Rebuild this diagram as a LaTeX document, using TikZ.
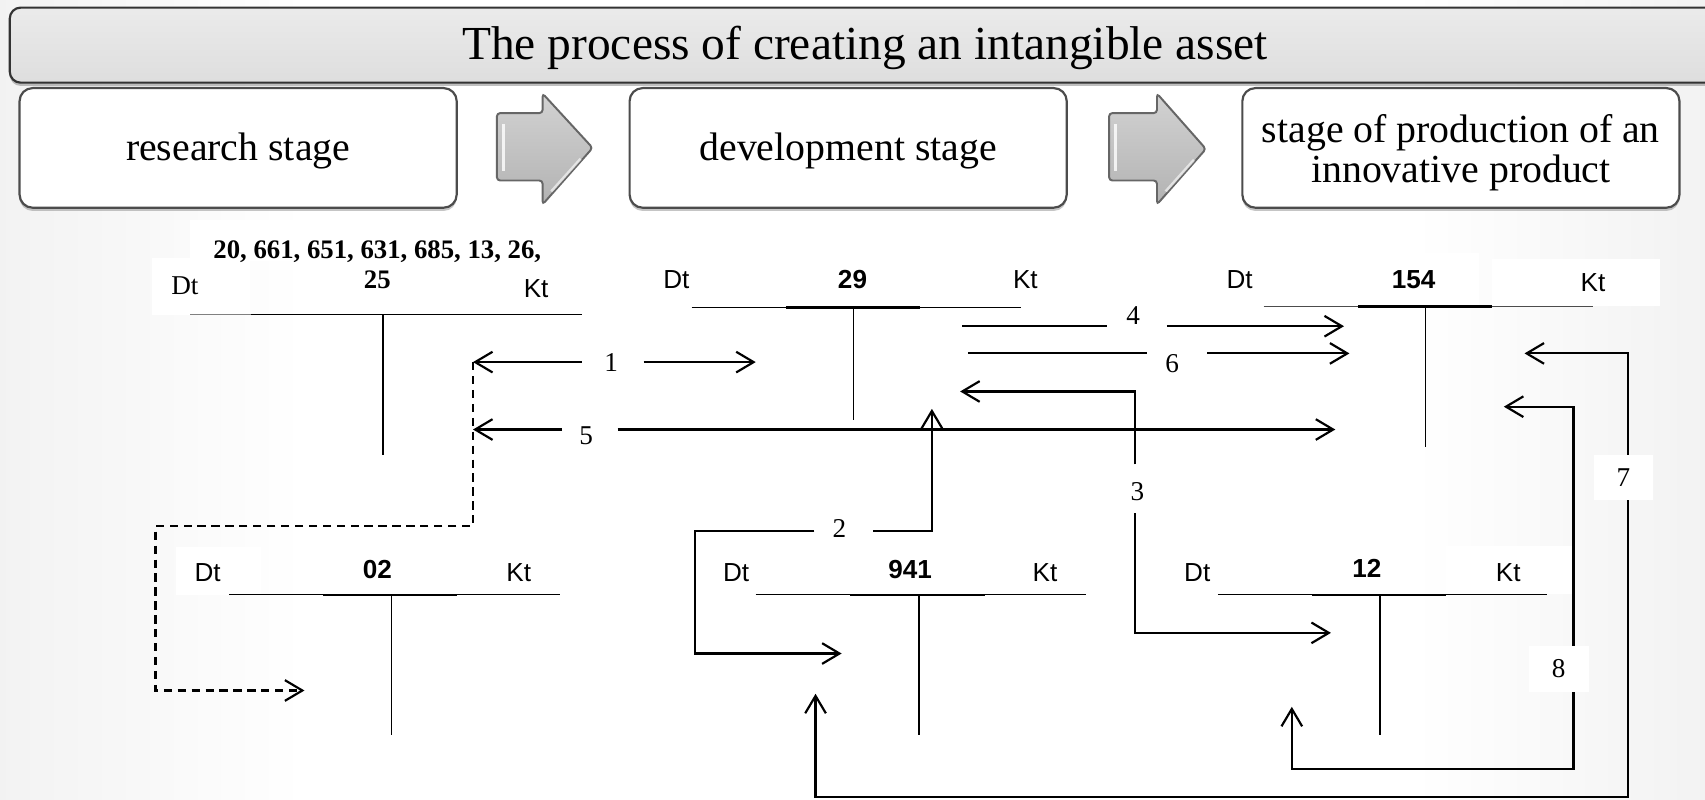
\documentclass[tikz,border=0pt]{standalone}
\usepackage{fontspec}
\setmainfont{Liberation Serif}
\setsansfont{Liberation Sans}
\usetikzlibrary{arrows.meta,shadows}
\begin{document}
\begin{tikzpicture}[x=0.5pt,y=-0.5pt,
  >={Straight Barb[length=8pt,width=9.5pt]},
  conn/.style={line width=1pt,->},
  dbl/.style={line width=1pt,<->},
  plainline/.style={line width=1pt},
  dashline/.style={line width=1pt,dash pattern=on 3.8pt off 2.6pt,->},
  tline/.style={line width=0.6pt},
  tthick/.style={line width=1.2pt},
  stemline/.style={line width=0.8pt},
  dtkt/.style={font=\sffamily\fontsize{12}{14}\selectfont, inner sep=1pt},
  accn/.style={font=\sffamily\bfseries\fontsize{12}{14}\selectfont, inner sep=1pt},
  numlab/.style={font=\fontsize{12.5}{15}\selectfont, inner sep=1pt},
  boxlab/.style={font=\fontsize{12.5}{15}\selectfont, fill=white, inner sep=0pt},
  stagebox/.style={draw=black!70, line width=1pt, fill=white, rounded corners=6pt,
    minimum width=201pt, minimum height=55pt, inner sep=0pt,
    drop shadow={shadow xshift=0pt, shadow yshift=-1.5pt, opacity=0.45}},
  stagetext/.style={font=\fontsize{18.3}{18.4}\selectfont, align=center, inner sep=0pt},
  chev/.style={draw=black!60, line width=0.9pt, top color=gray!35, bottom color=gray!60, rounded corners=1.5pt},
  whitepatch/.style={fill=white, draw=none},
]
\useasboundingbox (0,0) rectangle (1568,735);
% background
\fill[white] (0,0) rectangle (1568,735);
\shade[left color=gray!10, right color=white] (0,0) rectangle (280,735);
\shade[left color=white, right color=gray!10] (1300,0) rectangle (1568,735);

% title
\node[draw=black!80, line width=1pt, top color=gray!16, bottom color=gray!26, rounded corners=5pt,
  minimum width=795.5pt, minimum height=34.5pt, inner sep=0pt,
  drop shadow={shadow xshift=0pt, shadow yshift=-1.5pt, opacity=0.5}] (titlebox) at (804.5,41.5) {};
\node[font=\fontsize{21.8}{26}\selectfont, inner sep=0pt] (title) at (795.5,44) {The process of creating an intangible asset};

% stages
\node[stagebox] (s1) at (219,136) {};
\node[stagetext] (s1t) at (219,139) {research stage};
\node[stagebox] (s2) at (780,136) {};
\node[stagetext] (s2t) at (780,139) {development stage};
\node[stagebox] (s3) at (1343.5,136) {};
\node[stagetext] (s3t) at (1343.5,140.5) {stage of production of an\\innovative product};

% chevrons
\filldraw[chev] (457,104) -- (499,104) -- (499,86) -- (545,136) -- (499,188) -- (499,166) -- (457,166) -- cycle;
\draw[white, line width=1.2pt, opacity=0.8] (463,114) -- (463,157);
\draw[white, line width=1.2pt, opacity=0.6] (507,176) -- (534,146);
\filldraw[chev] (1020,104) -- (1064,104) -- (1064,86) -- (1109,137) -- (1064,188) -- (1064,166) -- (1020,166) -- cycle;
\draw[white, line width=1.2pt, opacity=0.8] (1026,114) -- (1026,157);
\draw[white, line width=1.2pt, opacity=0.6] (1072,176) -- (1098,147);

% white patches
\fill[whitepatch] (140,237) rectangle (230,290);
\fill[whitepatch] (175,202) rectangle (470,240);
\fill[whitepatch] (162,503) rectangle (240,547);
\fill[whitepatch] (1240,233) rectangle (1360,281);
\fill[whitepatch] (1372,238) rectangle (1527,281);
\fill[whitepatch] (1330,502) rectangle (1446,546);

% account 25
\node[font=\bfseries\fontsize{12.3}{13.5}\selectfont, align=center, inner sep=0pt] (a25) at (347,243.5) {20, 661, 651, 631, 685, 13, 26,\\25};
\node[font=\fontsize{12.5}{15}\selectfont, inner sep=1pt] (dt1) at (170,263) {Dt};
\node[dtkt] (kt1) at (493,265) {Kt};
\draw[tline, gray] (175,289) -- (231,289);
\draw[tline] (231,289) -- (535,289);
\draw[stemline] (352,289) -- (352,418);

% account 29
\node[dtkt] (dt2) at (622,257) {Dt};
\node[accn] (a29) at (784,257) {29};
\node[dtkt] (kt2) at (943,257) {Kt};
\draw[tline] (636,283) -- (939,283);
\draw[tthick] (723,283) -- (846,283);
\draw[stemline] (785,283) -- (785,386);

% account 154
\node[dtkt] (dt3) at (1140,257) {Dt};
\node[accn] (a154) at (1300,257) {154};
\node[dtkt] (kt3) at (1465,260) {Kt};
\draw[tline, black!70] (1162,282) -- (1465,282);
\draw[tthick] (1249,282) -- (1372,282);
\draw[stemline] (1311,282) -- (1311,411);

% account 02
\node[dtkt] (dt4) at (191,527) {Dt};
\node[accn] (a02) at (347,524) {02};
\node[dtkt] (kt4) at (477,527) {Kt};
\draw[tline] (211,547) -- (515,547);
\draw[tthick] (297,547) -- (420,547);
\draw[stemline] (360,547) -- (360,676);

% account 941
\node[dtkt] (dt5) at (677,527) {Dt};
\node[accn] (a941) at (837,524) {941};
\node[dtkt] (kt5) at (961,527) {Kt};
\draw[tline] (695,547) -- (999,547);
\draw[tthick] (782,547) -- (906,547);
\draw[stemline] (845,547) -- (845,676);

% account 12
\node[dtkt] (dt6) at (1101,527) {Dt};
\node[accn] (a12) at (1257,523) {12};
\node[dtkt] (kt6) at (1387,527) {Kt};
\draw[tline] (1120,547) -- (1423,547);
\draw[tthick] (1207,547) -- (1330,547);
\draw[stemline] (1269,547) -- (1269,676);

% connector coordinates
\coordinate (c1a) at (535,333);  \coordinate (c1b) at (435,333);
\coordinate (c1c) at (592,333);  \coordinate (c1d) at (695,333);
\coordinate (c5a) at (517,395);  \coordinate (c5b) at (435,395);
\coordinate (c5c) at (568,395);  \coordinate (c5d) at (1228,395);
\coordinate (c4a) at (885,300);  \coordinate (c4b) at (1018,300);
\coordinate (c4c) at (1073,300); \coordinate (c4d) at (1236,300);
\coordinate (c6a) at (890,325);  \coordinate (c6b) at (1055,325);
\coordinate (c6c) at (1110,325); \coordinate (c6d) at (1241,325);
\coordinate (c3a) at (1044,427); \coordinate (c3b) at (1044,360); \coordinate (c3c) at (883,360);
\coordinate (c3d) at (1044,472); \coordinate (c3e) at (1044,582); \coordinate (c3f) at (1224,582);
\coordinate (c2a) at (749,488);  \coordinate (c2b) at (639,488); \coordinate (c2c) at (639,601); \coordinate (c2d) at (774,601);
\coordinate (c2e) at (803,488);  \coordinate (c2f) at (857,488); \coordinate (c2g) at (857,376);
\coordinate (c7a) at (1402,325); \coordinate (c7b) at (1497,325); \coordinate (c7c) at (1497,733);
\coordinate (c7d) at (750,733);  \coordinate (c7e) at (750,638);
\coordinate (c8a) at (1383,374); \coordinate (c8b) at (1447,374); \coordinate (c8c) at (1447,707);
\coordinate (c8d) at (1188,707); \coordinate (c8e) at (1188,650);
\coordinate (cda) at (435,333);  \coordinate (cdb) at (435,484); \coordinate (cdc) at (143,484);
\coordinate (cdd) at (143,635);  \coordinate (cde) at (280,635);

% dashed connector
\draw[dashline] (cda) -- (cdb) -- (cdc) -- (cdd) -- (cde);

% 1
\node[numlab] (n1) at (562,333) {1};
\draw[conn] (c1a) -- (c1b);
\draw[conn] (c1c) -- (c1d);
% 5
\node[numlab] (n5) at (539,401) {5};
\draw[conn] (c5a) -- (c5b);
\draw[conn] (c5c) -- (c5d);
% 4
\node[numlab] (n4) at (1042,290) {4};
\draw[plainline] (c4a) -- (c4b);
\draw[conn] (c4c) -- (c4d);
% 6
\node[numlab] (n6) at (1078,334) {6};
\draw[plainline] (c6a) -- (c6b);
\draw[conn] (c6c) -- (c6d);
% 3
\node[numlab] (n3) at (1046,452) {3};
\draw[conn] (c3a) -- (c3b) -- (c3c);
\draw[conn] (c3d) -- (c3e) -- (c3f);
% 2
\node[numlab] (n2) at (772,486) {2};
\draw[conn] (c2a) -- (c2b) -- (c2c) -- (c2d);
\draw[conn] (c2e) -- (c2f) -- (c2g);
% 7
\draw[dbl] (c7a) -- (c7b) -- (c7c) -- (c7d) -- (c7e);
\node[boxlab, minimum width=27pt, minimum height=20.5pt] (n7) at (1493,439) {7};
% 8
\draw[dbl] (c8a) -- (c8b) -- (c8c) -- (c8d) -- (c8e);
\node[boxlab, minimum width=27.5pt, minimum height=21pt] (n8) at (1433.5,615) {8};
\end{tikzpicture}
\end{document}
